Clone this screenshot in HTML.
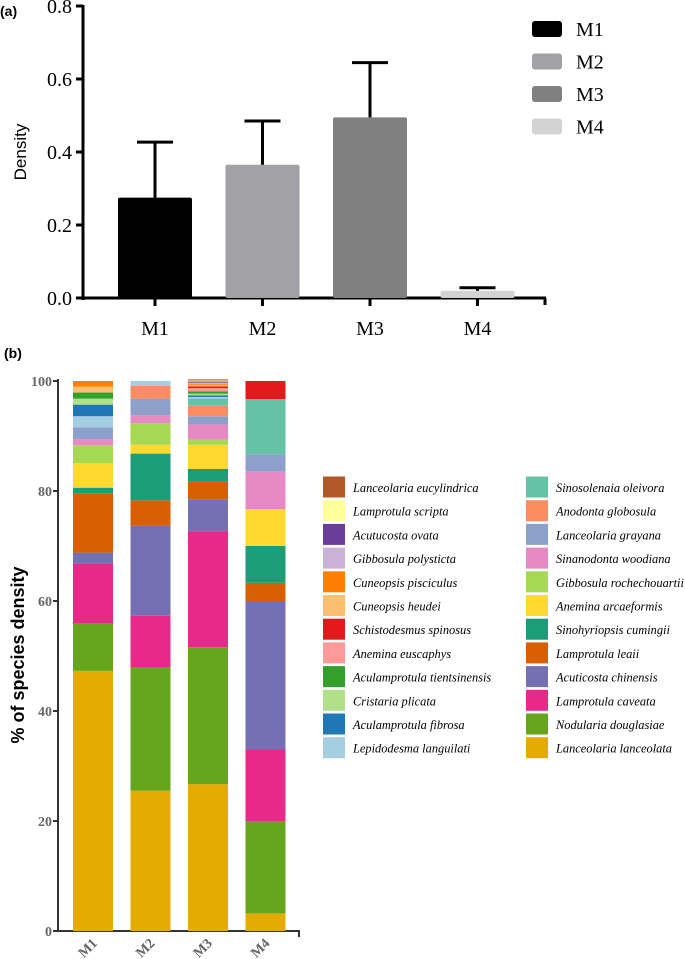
<!DOCTYPE html>
<html><head><meta charset="utf-8"><style>
body{margin:0;background:#fff;width:685px;height:959px;overflow:hidden}
svg{display:block}
.serif{font-family:"Liberation Serif",serif}
.sans{font-family:"Liberation Sans",sans-serif}
</style></head><body>
<svg id="chart" width="685" height="959">
<text class="sans" x="0" y="16" font-size="14" font-weight="bold">(a)</text>
<text class="sans" x="4" y="358" font-size="14" font-weight="bold">(b)</text>
<g id="top"></g>
<g id="bot"></g>
</svg>
<script>
// Panel (a)
const topCats=["M1","M2","M3","M4"];
const topVals=[0.275,0.365,0.495,0.02];
const topErr=[0.152,0.12,0.15,0.008];
const topColors=["#000000","#a2a1a6","#808080","#d3d3d3"];
const topTicks=[0,0.2,0.4,0.6,0.8];
// Panel (b)
const botCats=["M1","M2","M3","M4"];
const species=["Lanceolaria lanceolata","Nodularia douglasiae","Lamprotula caveata","Acuticosta chinensis","Lamprotula leaii","Sinohyriopsis cumingii","Anemina arcaeformis","Gibbosula rochechouartii","Sinanodonta woodiana","Lanceolaria grayana","Anodonta globosula","Sinosolenaia oleivora","Lepidodesma languilati","Aculamprotula fibrosa","Cristaria plicata","Aculamprotula tientsinensis","Anemina euscaphys","Schistodesmus spinosus","Cuneopsis heudei","Cuneopsis pisciculus","Gibbosula polysticta","Acutucosta ovata","Lamprotula scripta","Lanceolaria eucylindrica"];
const speciesColors=["#E6AB02","#66A61E","#E7298A","#7570B3","#D95F02","#1B9E77","#FFD92F","#A6D854","#E78AC3","#8DA0CB","#FC8D62","#66C2A5","#A6CEE3","#1F78B4","#B2DF8A","#33A02C","#FB9A99","#E31A1C","#FDBF6F","#FF7F00","#CAB2D6","#6A3D9A","#FFFF99","#B15928"];
const valsM1=[47.3,8.7,10.8,2,10.8,1,4.5,3.2,1.1,2.2,0,0,2,2.1,1.1,1.1,0,0,1.1,1,0,0,0,0];
const valsM2=[25.5,22.5,9.3,16.4,4.6,8.5,1.6,3.9,1.5,3,2.3,0,0.9,0,0,0,0,0,0,0,0,0,0,0];
const valsM3=[26.7,24.9,21.1,5.8,3.2,2.3,4.4,0.9,2.8,1.5,1.9,1.3,0.3,0.3,0.3,0.4,0.6,0.3,0.3,0.2,0.2,0.2,0.2,0.2];
const valsM4=[3.2,16.8,13,27,3.3,6.7,6.7,0,6.8,3.2,0,10,0,0,0,0,0,3.3,0,0,0,0,0,0];
const botTicks=[0,20,40,60,80,100];
const NS="http://www.w3.org/2000/svg";
function mk(parent,tag,attrs){const e=document.createElementNS(NS,tag);for(const k in attrs)e.setAttribute(k,attrs[k]);parent.appendChild(e);return e;}
// top axes
const T=document.getElementById('top');
const ty=v=>298-v*(292/0.8);
const tx=i=>155+i*107.5;
mk(T,'line',{x1:83,y1:5,x2:83,y2:300,stroke:'#000','stroke-width':3});
mk(T,'line',{x1:82,y1:298,x2:546,y2:298,stroke:'#000','stroke-width':3});
mk(T,'line',{x1:545,y1:298,x2:545,y2:305,stroke:'#000','stroke-width':3});
topTicks.forEach(t=>{
 mk(T,'line',{x1:76,y1:ty(t),x2:83,y2:ty(t),stroke:'#000','stroke-width':3});
 const l=mk(T,'text',{x:72,y:ty(t)+7,'text-anchor':'end','font-size':20,class:'serif'});l.textContent=t.toFixed(1);
 
 
});
const yl=mk(T,'text',{x:0,y:0,transform:'translate(26,152) rotate(-90)','text-anchor':'middle','font-size':17,class:'sans'});yl.textContent='Density';


topCats.forEach((c,i)=>{
 const x=tx(i);
 const r=mk(T,'rect',{x:x-37,y:ty(topVals[i]),width:74,height:ty(0)-ty(topVals[i]),fill:topColors[i],rx:2});
 
 
 const e=topVals[i]+topErr[i];
 const el=mk(T,'path',{d:`M${x} ${ty(topVals[i])}V${ty(e)}M${x-18} ${ty(e)}H${x+18}`,stroke:'#000','stroke-width':3,fill:'none'});
 
 
 mk(T,'line',{x1:x,y1:298,x2:x,y2:306,stroke:'#000','stroke-width':3});
 const l=mk(T,'text',{x:x,y:335,'text-anchor':'middle','font-size':20,class:'serif'});l.textContent=c;
 
 
 const ly=29+i*32.5;
 const sw=mk(T,'rect',{x:532,y:ly-8,width:30,height:16,rx:3,fill:topColors[i]});
 
 
 const lt=mk(T,'text',{x:576,y:ly+7,'font-size':20,class:'serif'});lt.textContent=c;
 
 
});
// bottom
const B=document.getElementById('bot');
const by=v=>931-v*5.5;
const bx=i=>93+i*57.5;
mk(B,'line',{x1:58,y1:379,x2:58,y2:932,stroke:'#333','stroke-width':2});
mk(B,'line',{x1:57,y1:931,x2:300,y2:931,stroke:'#333','stroke-width':2});
mk(B,'line',{x1:299,y1:931,x2:299,y2:937,stroke:'#333','stroke-width':2});
botTicks.forEach(t=>{
 mk(B,'line',{x1:53,y1:by(t),x2:58,y2:by(t),stroke:'#333','stroke-width':2});
 const l=mk(B,'text',{x:52,y:by(t)+5,'text-anchor':'end','font-size':14,'font-weight':'bold',fill:'#666',class:'serif'});l.textContent=t;
 
 
});
const yl2=mk(B,'text',{x:0,y:0,transform:'translate(24,655) rotate(-90)','text-anchor':'middle','font-size':18,'font-weight':'bold',class:'sans'});yl2.textContent='% of species density';


const allVals=[valsM1,valsM2,valsM3,valsM4];
botCats.forEach((c,i)=>{
 let cum=0;const x=bx(i);
 allVals[i].forEach((v,j)=>{
  if(v<=0)return;
  const r=mk(B,'rect',{x:x-20,y:by(cum+v),width:40,height:by(cum)-by(cum+v),fill:speciesColors[j]});
  
  
  cum+=v;
 });
 const l=mk(B,'text',{x:0,y:0,transform:`translate(${x+5},944) rotate(-45)`,'text-anchor':'end','font-size':14,'font-weight':'bold',fill:'#666',class:'serif'});l.textContent=c;
 
 
});
// legend: right column = species 0..11 bottom-up, left column = 12..23 bottom-up
species.forEach((s,j)=>{
 const col=j<12?1:0;const k=j%12;
 const row=11-k;const cy=487+row*23.7;
 const sx=col?526:323;
 const sw=mk(B,'rect',{x:sx,y:cy-10.5,width:22,height:21,fill:speciesColors[j]});
 
 
 const t=mk(B,'text',{x:sx+30,y:cy+5,'font-size':12.4,'font-style':'italic',class:'serif'});t.textContent=s;
 
 
});
</script>
</body></html>
